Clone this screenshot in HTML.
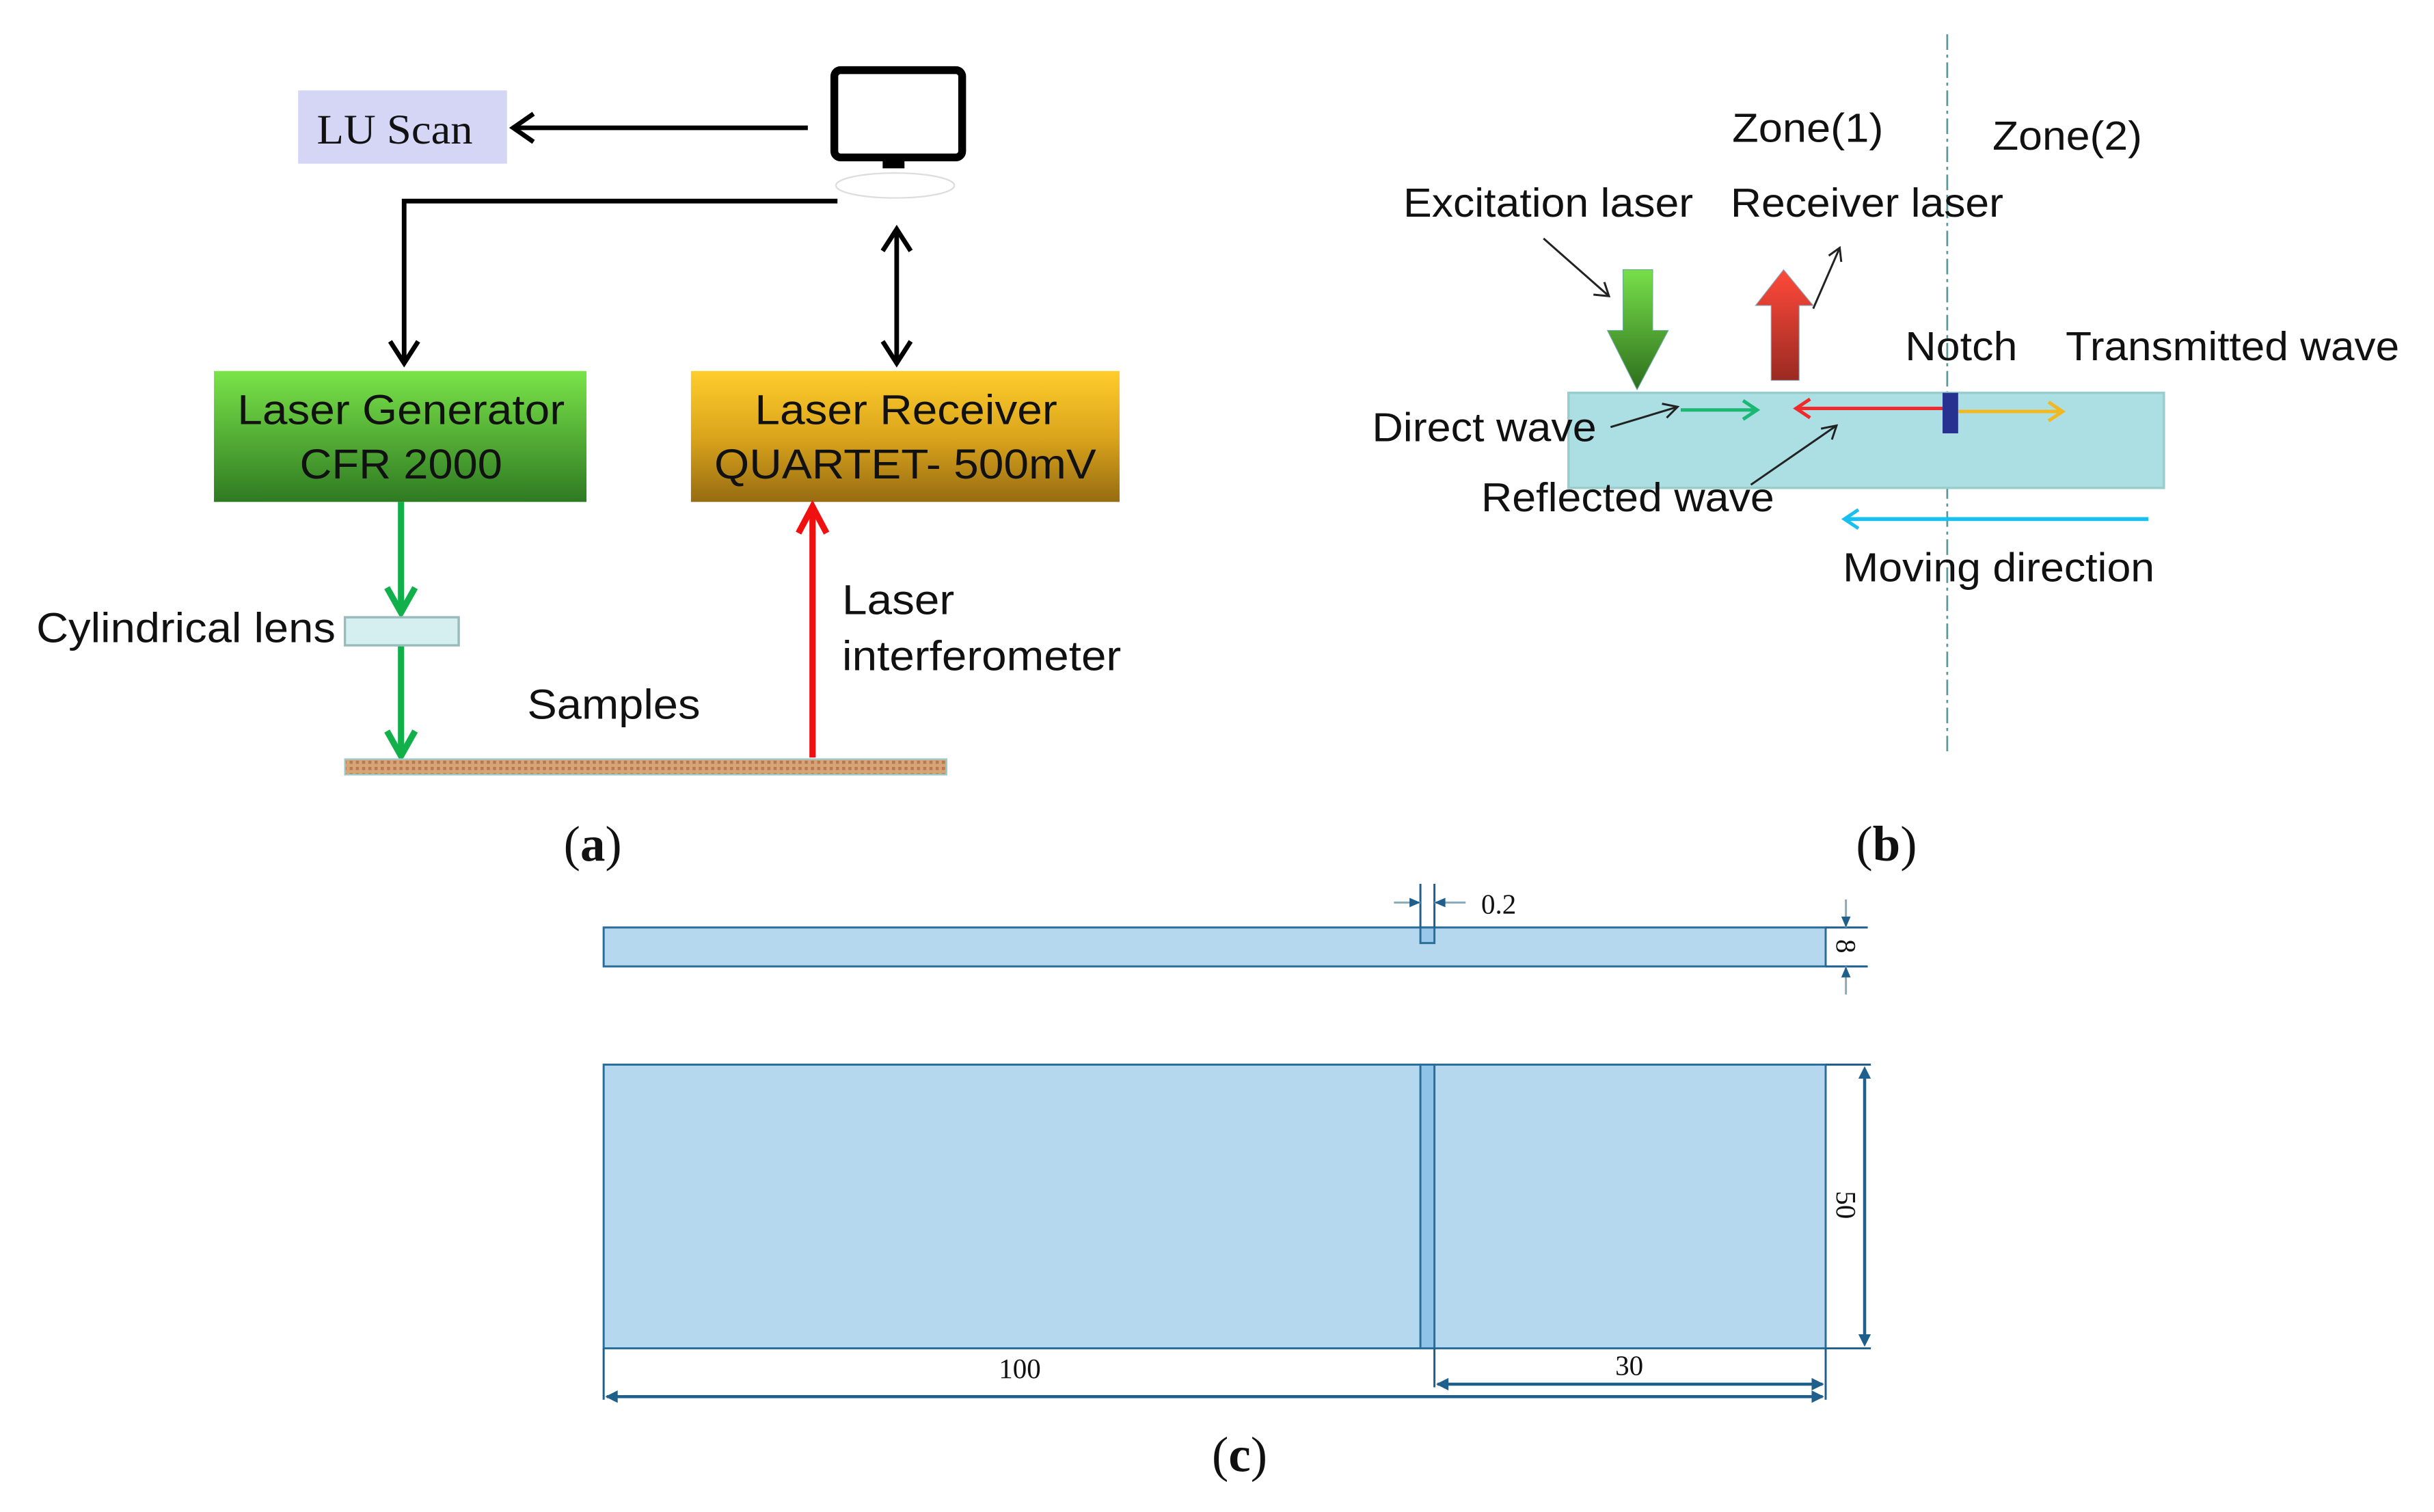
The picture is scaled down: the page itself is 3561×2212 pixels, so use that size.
<!DOCTYPE html>
<html><head><meta charset="utf-8"><style>
html,body{margin:0;padding:0;background:#fff;}
svg{display:block;}
.s{font-family:"Liberation Sans",sans-serif;fill:#111;}
.r{font-family:"Liberation Serif",serif;fill:#111;}
</style></head><body>
<svg width="3561" height="2212" viewBox="0 0 1561 970" xmlns="http://www.w3.org/2000/svg">
<defs>
<linearGradient id="gg" x1="0" y1="0" x2="0" y2="1"><stop offset="0" stop-color="#7ae449"/><stop offset="1" stop-color="#2f7a22"/></linearGradient>
<linearGradient id="yg" x1="0" y1="0" x2="0" y2="1"><stop offset="0" stop-color="#ffcd2c"/><stop offset="0.5" stop-color="#dba51c"/><stop offset="1" stop-color="#976c12"/></linearGradient>
<linearGradient id="ga" x1="0" y1="0" x2="0" y2="1"><stop offset="0" stop-color="#78e04a"/><stop offset="1" stop-color="#2d6e1c"/></linearGradient>
<linearGradient id="ra" x1="0" y1="0" x2="0" y2="1"><stop offset="0" stop-color="#ff4a3a"/><stop offset="1" stop-color="#9a2a22"/></linearGradient>
<pattern id="tx" width="4" height="4" patternUnits="userSpaceOnUse"><rect width="4" height="4" fill="#d7a478"/><rect width="2" height="2" fill="#b87a4c"/></pattern>
</defs>

<!-- (a) -->
<rect x="191" y="58" width="134" height="47" fill="#d5d5f5"/>
<text class="r" x="203" y="92" font-size="27" textLength="100" lengthAdjust="spacingAndGlyphs">LU Scan</text>
<line x1="518" y1="82" x2="330" y2="82" stroke="#000" stroke-width="3"/>
<polyline points="342,73 329,82 342,91" fill="none" stroke="#000" stroke-width="3"/>
<rect x="535" y="45" width="82" height="56" rx="4" fill="none" stroke="#000" stroke-width="5"/>
<rect x="566" y="101" width="14" height="7" fill="#000"/>
<ellipse cx="574" cy="119" rx="38" ry="8" fill="none" stroke="#ddd" stroke-width="1"/>
<polyline points="537,129 259,129 259,232" fill="none" stroke="#000" stroke-width="3"/>
<polyline points="250,219 259,233 268,219" fill="none" stroke="#000" stroke-width="3"/>
<line x1="575" y1="148" x2="575" y2="232" stroke="#000" stroke-width="3"/>
<polyline points="566,161 575,147 584,161" fill="none" stroke="#000" stroke-width="3"/>
<polyline points="566,219 575,233 584,219" fill="none" stroke="#000" stroke-width="3"/>
<rect x="137" y="238" width="239" height="84" fill="url(#gg)"/>
<text class="s" x="152" y="272" font-size="27" textLength="210" lengthAdjust="spacingAndGlyphs">Laser Generator</text>
<text class="s" x="192" y="307" font-size="27" textLength="130" lengthAdjust="spacingAndGlyphs">CFR 2000</text>
<rect x="443" y="238" width="275" height="84" fill="url(#yg)"/>
<text class="s" x="484" y="272" font-size="27" textLength="194" lengthAdjust="spacingAndGlyphs">Laser Receiver</text>
<text class="s" x="458" y="307" font-size="27" textLength="245" lengthAdjust="spacingAndGlyphs">QUARTET- 500mV</text>
<g stroke="#12b04a" stroke-width="4" fill="none">
<line x1="257" y1="322" x2="257" y2="393"/><polyline points="248,377 257,393 266,377"/>
<line x1="257" y1="414" x2="257" y2="485"/><polyline points="248,469 257,485 266,469"/>
</g>
<rect x="221" y="396" width="73" height="18" fill="#d5eff0" stroke="#9bb" stroke-width="1.5"/>
<rect x="221" y="487" width="386" height="10" fill="url(#tx)" stroke="#9cc" stroke-width="1"/>
<line x1="521" y1="486" x2="521" y2="326" stroke="#f01010" stroke-width="4"/>
<polyline points="512,342 521,325 530,342" fill="none" stroke="#f01010" stroke-width="4"/>
<text class="s" x="23" y="412" font-size="27" textLength="192" lengthAdjust="spacingAndGlyphs">Cylindrical lens</text>
<text class="s" x="338" y="461" font-size="27" textLength="111" lengthAdjust="spacingAndGlyphs">Samples</text>
<text class="s" x="540" y="394" font-size="27" textLength="72" lengthAdjust="spacingAndGlyphs">Laser</text>
<text class="s" x="540" y="430" font-size="27" textLength="179" lengthAdjust="spacingAndGlyphs">interferometer</text>
<text class="r" x="380" y="552" font-size="32" text-anchor="middle">(<tspan font-weight="bold">a</tspan>)</text>

<!-- (b) -->
<line x1="1249" y1="22" x2="1249" y2="485" stroke="#5a9a9a" stroke-width="1.2" stroke-dasharray="10,3,2,3"/>
<rect x="1006" y="252" width="382" height="61" fill="#acdfe4" stroke="#9cc" stroke-width="1.5"/>
<text class="s" x="1111" y="91" font-size="26" textLength="97" lengthAdjust="spacingAndGlyphs">Zone(1)</text>
<text class="s" x="1278" y="96" font-size="26" textLength="96" lengthAdjust="spacingAndGlyphs">Zone(2)</text>
<text class="s" x="900" y="139" font-size="26" textLength="186" lengthAdjust="spacingAndGlyphs">Excitation laser</text>
<text class="s" x="1110" y="139" font-size="26" textLength="175" lengthAdjust="spacingAndGlyphs">Receiver laser</text>
<text class="s" x="1222" y="231" font-size="26" textLength="72" lengthAdjust="spacingAndGlyphs">Notch</text>
<text class="s" x="1325" y="231" font-size="26" textLength="214" lengthAdjust="spacingAndGlyphs">Transmitted wave</text>
<text class="s" x="880" y="283" font-size="26" textLength="144" lengthAdjust="spacingAndGlyphs">Direct wave</text>
<text class="s" x="950" y="328" font-size="26" textLength="188" lengthAdjust="spacingAndGlyphs">Reflected wave</text>
<text class="s" x="1182" y="373" font-size="26" textLength="200" lengthAdjust="spacingAndGlyphs">Moving direction</text>
<g stroke="#222" stroke-width="1.3" fill="none">
<line x1="990" y1="153" x2="1032" y2="190"/><polyline points="1022,189 1032,190 1029,181"/>
<line x1="1163" y1="198" x2="1180" y2="159"/><polyline points="1173,164 1180,159 1181,168"/>
<line x1="1033" y1="274" x2="1076" y2="261"/><polyline points="1066,259 1076,261 1069,268"/>
<line x1="1123" y1="311" x2="1178" y2="273"/><polyline points="1168,275 1178,273 1175,282"/>
</g>
<polygon points="1041,173 1060,173 1060,212 1070,212 1050,250 1031,212 1041,212" fill="url(#ga)" stroke="#6a9" stroke-width="0.5"/>
<polygon points="1144,173 1163,196 1154,196 1154,244 1136,244 1136,196 1126,196" fill="url(#ra)" stroke="#8ab" stroke-width="0.5"/>
<g fill="none" stroke-width="2.2">
<line x1="1078" y1="263" x2="1126" y2="263" stroke="#1ab873"/><polyline points="1118,257 1127,263 1118,269" stroke="#1ab873"/>
<line x1="1153" y1="262" x2="1246" y2="262" stroke="#f02a2a"/><polyline points="1161,256 1152,262 1161,268" stroke="#f02a2a"/>
<line x1="1256" y1="264" x2="1322" y2="264" stroke="#f2b820"/><polyline points="1314,258 1323,264 1314,270" stroke="#f2b820"/>
<line x1="1378" y1="333" x2="1184" y2="333" stroke="#18c0f0" stroke-width="2.5"/><polyline points="1192,327 1183,333 1192,339" stroke="#18c0f0"/>
</g>
<rect x="1246" y="252" width="10" height="26" fill="#273190"/>
<text class="r" x="1210" y="552" font-size="32" text-anchor="middle">(<tspan font-weight="bold">b</tspan>)</text>

<!-- (c) -->
<g stroke="#2a6c9a" stroke-width="1.3">
<rect x="387" y="595" width="784" height="25" fill="#b5d8ee"/>
<rect x="911" y="595" width="9" height="10" fill="#9ac8ea"/>
<rect x="387" y="683" width="784" height="182" fill="#b5d8ee"/>
<rect x="911" y="683" width="9" height="182" fill="#8fc4e8"/>
</g>
<g stroke="#1e5f8c" stroke-width="1.3" fill="none">
<line x1="911" y1="567" x2="911" y2="595"/><line x1="920" y1="567" x2="920" y2="595"/>
<line x1="894" y1="579" x2="911" y2="579" stroke="#8ab"/><line x1="920" y1="579" x2="940" y2="579" stroke="#8ab"/>
<line x1="1171" y1="595" x2="1198" y2="595"/><line x1="1171" y1="620" x2="1198" y2="620"/>
<line x1="1184" y1="577" x2="1184" y2="595" stroke="#8ab"/><line x1="1184" y1="620" x2="1184" y2="638" stroke="#8ab"/>
<line x1="1171" y1="683" x2="1200" y2="683"/><line x1="1171" y1="865" x2="1200" y2="865"/>
<line x1="1196" y1="686" x2="1196" y2="862" stroke-width="2"/>
<line x1="387" y1="865" x2="387" y2="898"/><line x1="1171" y1="865" x2="1171" y2="898"/><line x1="920" y1="865" x2="920" y2="890"/>
<line x1="389" y1="896" x2="1169" y2="896" stroke-width="2"/>
<line x1="922" y1="888" x2="1169" y2="888" stroke-width="2"/>
</g>
<g fill="#1e5f8c">
<polygon points="911,579 904,576 904,582"/><polygon points="920,579 927,576 927,582"/>
<polygon points="1184,595 1181,588 1187,588"/><polygon points="1184,620 1181,627 1187,627"/>
<polygon points="1196,684 1192,692 1200,692"/><polygon points="1196,864 1192,856 1200,856"/>
<polygon points="388,896 396,892 396,900"/><polygon points="1170,896 1162,892 1162,900"/>
<polygon points="921,888 929,884 929,892"/><polygon points="1170,888 1162,884 1162,892"/>
</g>
<text class="r" x="950" y="586" font-size="18">0.2</text>
<text class="r" font-size="18" text-anchor="middle" transform="translate(1178,607) rotate(90)">8</text>
<text class="r" font-size="18" text-anchor="middle" transform="translate(1178,773) rotate(90)">50</text>
<text class="r" x="654" y="884" font-size="18" text-anchor="middle">100</text>
<text class="r" x="1045" y="882" font-size="18" text-anchor="middle">30</text>
<text class="r" x="795" y="944" font-size="32" text-anchor="middle">(<tspan font-weight="bold">c</tspan>)</text>
</svg>
</body></html>
